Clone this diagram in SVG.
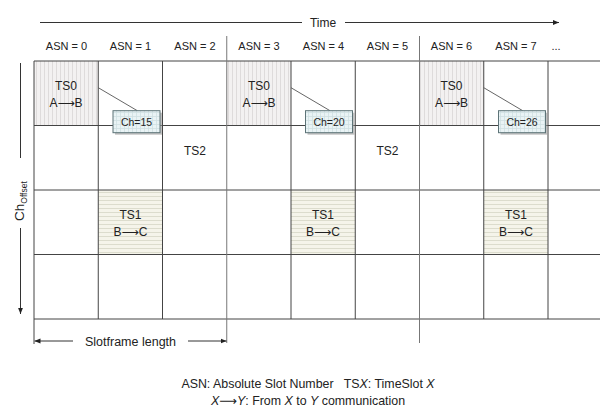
<svg xmlns="http://www.w3.org/2000/svg" width="600" height="408" viewBox="0 0 600 408">
<style>
text{font-family:"Liberation Sans","Open Sans",sans-serif;fill:#222;}
.lbl{font-size:11px;text-anchor:middle;}
.cell{font-size:12px;text-anchor:middle;}
.ch{font-size:10.5px;text-anchor:middle;}
.arr{font-family:"DejaVu Sans",sans-serif;}
.g{stroke:#444;stroke-width:1;fill:none;}
.gl{stroke:#777;stroke-width:1;fill:none;}
.ax{stroke:#333;stroke-width:1;fill:none;}
.box{fill:url(#bgrid);stroke:#5d7377;stroke-width:1;}
.sh{fill:#9a9a9a;opacity:0.6;}
.lead{stroke:#555;stroke-width:0.9;fill:none;}
</style>
<defs>
<pattern id="vs" width="4" height="4" patternUnits="userSpaceOnUse">
<rect width="4" height="4" fill="#f3f1f1"/><line x1="0.5" y1="0" x2="0.5" y2="4" stroke="#dedbdb" stroke-width="1"/>
</pattern>
<pattern id="hs" width="4" height="4" patternUnits="userSpaceOnUse">
<rect width="4" height="4" fill="#f5f4ea"/><line x1="0" y1="0.5" x2="4" y2="0.5" stroke="#dcdccd" stroke-width="1"/>
</pattern>
<pattern id="bgrid" width="4" height="4" patternUnits="userSpaceOnUse">
<rect width="4" height="4" fill="#e9f3f5"/><path d="M0 0.5H4M0.5 0V4" stroke="#cfdfe2" stroke-width="0.8"/>
</pattern>
<marker id="ah" viewBox="0 0 10 10" refX="10" refY="5" markerWidth="6" markerHeight="6" orient="auto-start-reverse" markerUnits="userSpaceOnUse">
<path d="M0 1L10 5L0 9z" fill="#222"/>
</marker>
</defs>

<!-- time axis -->
<g id="time-axis">
<line class="ax" x1="40" y1="22.5" x2="302" y2="22.5"/>
<text x="323" y="27" style="font-size:12px;text-anchor:middle">Time</text>
<line class="ax" x1="345" y1="22.5" x2="559" y2="22.5" marker-end="url(#ah)"/>
</g>

<!-- ASN labels -->
<g id="asn-labels">
<text class="lbl" x="66.5" y="50">ASN = 0</text>
<text class="lbl" x="130.5" y="50">ASN = 1</text>
<text class="lbl" x="195" y="50">ASN = 2</text>
<text class="lbl" x="259" y="50">ASN = 3</text>
<text class="lbl" x="323.5" y="50">ASN = 4</text>
<text class="lbl" x="387.5" y="50">ASN = 5</text>
<text class="lbl" x="451.5" y="50">ASN = 6</text>
<text class="lbl" x="516" y="50">ASN = 7</text>
<text class="lbl" x="556" y="50">...</text>
</g>

<!-- shaded cells -->
<g id="ts0-cells">
<rect x="34" y="61" width="64.25" height="64.5" fill="url(#vs)"/>
<rect x="226.75" y="61" width="64.25" height="64.5" fill="url(#vs)"/>
<rect x="419.5" y="61" width="64.25" height="64.5" fill="url(#vs)"/>
</g>
<g id="ts1-cells">
<rect x="98.25" y="190" width="64.25" height="64.5" fill="url(#hs)"/>
<rect x="291" y="190" width="64.25" height="64.5" fill="url(#hs)"/>
<rect x="483.75" y="190" width="64.25" height="64.5" fill="url(#hs)"/>
</g>

<!-- grid -->
<g id="grid">
<path class="g" d="M34 61H600M34 125.5H600M34 190H600M34 254.5H600M34 319H600"/>
<path class="g" d="M34 61V344M98.25 61V319M162.5 61V319M291 61V319M355.25 61V319M483.75 61V319M548 61V319"/>
<path class="gl" d="M226.75 36V343M419.5 36V343"/>
</g>

<!-- channel offset axis -->
<g id="ch-axis">
<line class="ax" x1="20.5" y1="63" x2="20.5" y2="158"/>
<line class="ax" x1="20.5" y1="228" x2="20.5" y2="314" marker-end="url(#ah)"/>
<text transform="translate(24 221) rotate(-90)" style="font-size:13.5px">Ch<tspan style="font-size:8.5px" dy="3">Offset</tspan></text>
</g>

<!-- cell texts -->
<g id="ts0-a">
<text class="cell" x="66" y="90">TS0</text>
<text class="cell" x="66" y="106.5">A<tspan class="arr">⟶</tspan>B</text>
</g>
<g id="ts0-b">
<text class="cell" x="259" y="90">TS0</text>
<text class="cell" x="259" y="106.5">A<tspan class="arr">⟶</tspan>B</text>
</g>
<g id="ts0-c">
<text class="cell" x="451.5" y="90">TS0</text>
<text class="cell" x="451.5" y="106.5">A<tspan class="arr">⟶</tspan>B</text>
</g>
<g id="ts1-a">
<text class="cell" x="130.5" y="218.5">TS1</text>
<text class="cell" x="130.5" y="236">B<tspan class="arr">⟶</tspan>C</text>
</g>
<g id="ts1-b">
<text class="cell" x="323" y="218.5">TS1</text>
<text class="cell" x="323" y="236">B<tspan class="arr">⟶</tspan>C</text>
</g>
<g id="ts1-c">
<text class="cell" x="516" y="218.5">TS1</text>
<text class="cell" x="516" y="236">B<tspan class="arr">⟶</tspan>C</text>
</g>
<g id="ts2-a"><text class="cell" x="195" y="154.5">TS2</text></g>
<g id="ts2-b"><text class="cell" x="387.5" y="154.5">TS2</text></g>

<!-- channel callouts -->
<g id="connectors">
<line class="lead" x1="98.25" y1="87.7" x2="137.3" y2="110.7"/>
<line class="lead" x1="291" y1="87.7" x2="330" y2="110.7"/>
<line class="lead" x1="483.75" y1="87.7" x2="522.7" y2="110.7"/>
</g>
<g id="ch15">
<rect class="sh" x="115" y="112.7" width="47" height="22"/>
<rect class="box" x="113" y="110.7" width="47" height="22"/>
<text class="ch" x="136.5" y="125.5">Ch=15</text>
</g>
<g id="ch20">
<rect class="sh" x="307.5" y="112.7" width="47" height="22"/>
<rect class="box" x="305.5" y="110.7" width="47" height="22"/>
<text class="ch" x="329" y="125.5">Ch=20</text>
</g>
<g id="ch26">
<rect class="sh" x="500.5" y="112.7" width="47" height="22"/>
<rect class="box" x="498.5" y="110.7" width="47" height="22"/>
<text class="ch" x="522" y="125.5">Ch=26</text>
</g>

<!-- slotframe length -->
<g id="slotframe">
<line class="ax" x1="73" y1="341" x2="34.5" y2="341" marker-end="url(#ah)"/>
<text x="130.5" y="345.5" style="font-size:12.5px;text-anchor:middle">Slotframe length</text>
<line class="ax" x1="188" y1="341" x2="226.5" y2="341" marker-end="url(#ah)"/>
</g>

<!-- legend -->
<g id="legend">
<text x="308" y="388" style="font-size:12.4px;text-anchor:middle" xml:space="preserve">ASN: Absolute Slot Number   TS<tspan font-style="italic">X</tspan>: TimeSlot <tspan font-style="italic">X</tspan></text>
<text x="308" y="404.5" style="font-size:12.4px;text-anchor:middle"><tspan font-style="italic">X</tspan><tspan class="arr">⟶</tspan><tspan font-style="italic">Y</tspan>: From <tspan font-style="italic">X</tspan> to <tspan font-style="italic">Y</tspan> communication</text>
</g>
</svg>
